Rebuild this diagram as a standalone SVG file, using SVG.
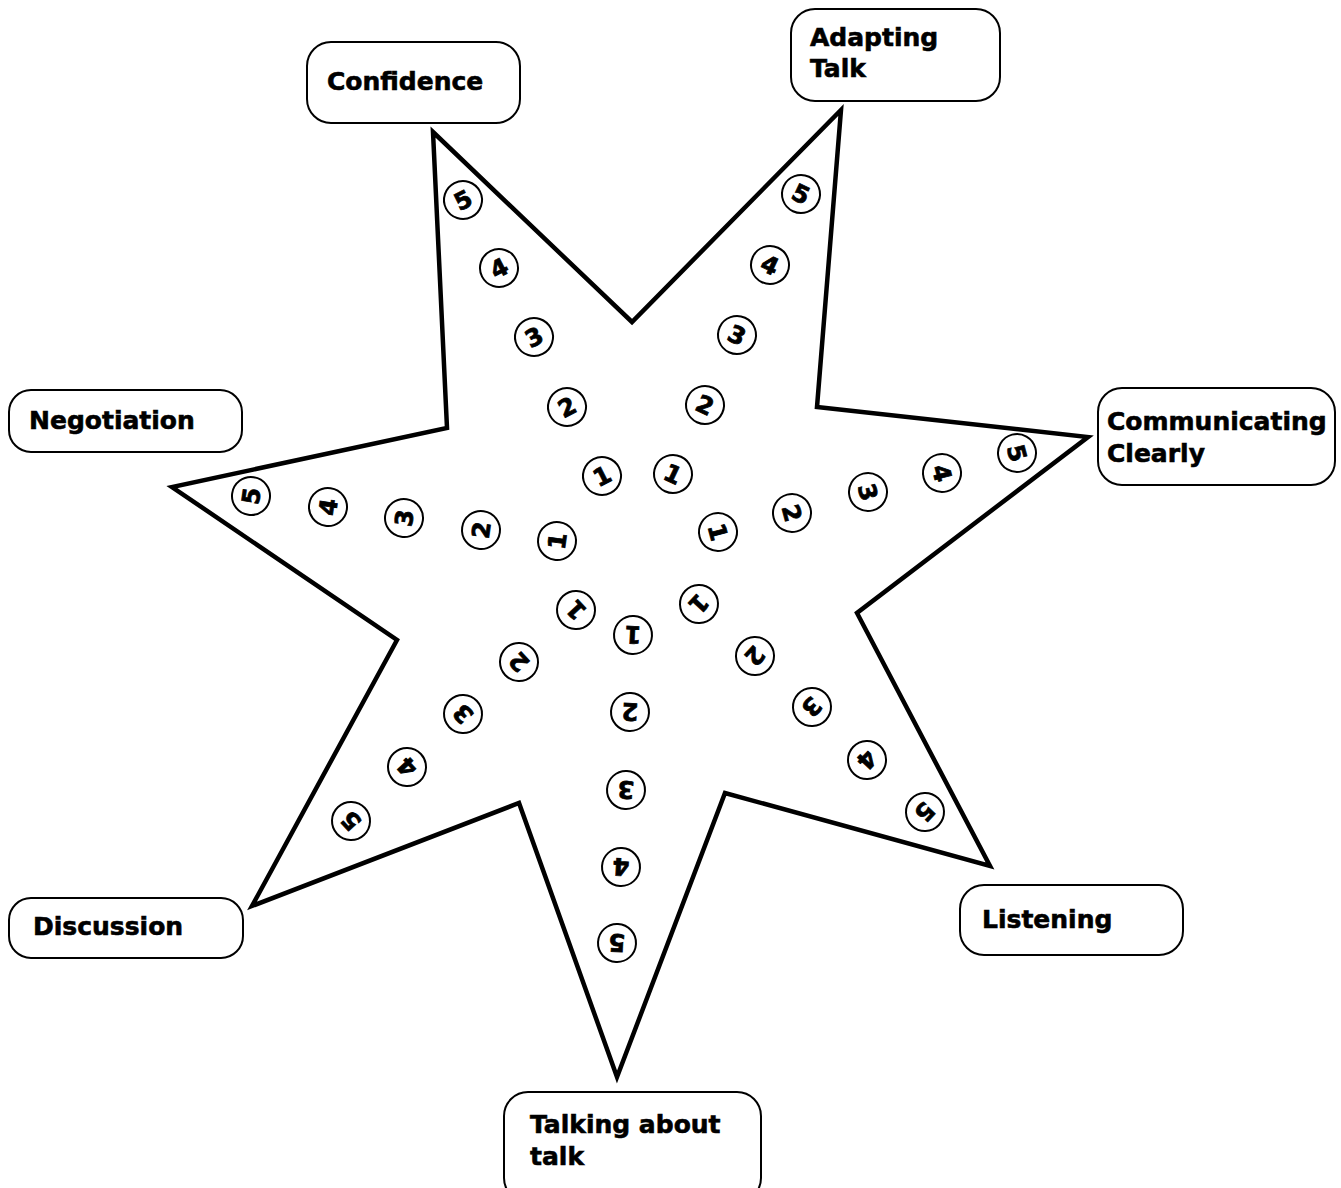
<svg xmlns="http://www.w3.org/2000/svg" width="1341" height="1188" viewBox="0 0 1341 1188">
<style>
.box{fill:#fff;stroke:#000;stroke-width:2}
.lbl{font-family:"DejaVu Sans",Verdana,sans-serif;font-weight:bold;font-size:25px;fill:#000;stroke:#000;stroke-width:0.6}
.star{fill:#fff;stroke:#000;stroke-width:4.5;stroke-linejoin:miter}
.c circle{fill:#fff;stroke:#000;stroke-width:2}
.c text{font-family:"DejaVu Sans",Verdana,sans-serif;font-weight:bold;font-size:24px;text-anchor:middle;fill:#000;stroke:#000;stroke-width:0.8}
</style>
<rect width="1341" height="1188" fill="#fff"/>
<g id="star-shape">
<path class="star" d="M433,132 L632,322 L841,110 L817,407 L1088,437 L857,613 L990,866 L725,793 L617,1077 L519,803 L252,906 L397,640 L172,487 L447,428 Z"/>
</g>
<g id="connectors"></g>
<g id="node-confidence"><rect class="box" x="307" y="42" width="213" height="81" rx="24"/><text class="lbl" x="327" y="90">Confidence</text></g>
<g id="node-adapting"><rect class="box" x="791" y="9" width="209" height="92" rx="24"/><text class="lbl" x="810" y="46">Adapting</text><text class="lbl" x="810" y="77">Talk</text></g>
<g id="node-negotiation"><rect class="box" x="9" y="390" width="233" height="62" rx="22"/><text class="lbl" x="29" y="429">Negotiation</text></g>
<g id="node-communicating"><rect class="box" x="1098" y="388" width="237" height="97" rx="24"/><text class="lbl" x="1107" y="430">Communicating</text><text class="lbl" x="1107" y="462">Clearly</text></g>
<g id="node-discussion"><rect class="box" x="9" y="898" width="234" height="60" rx="22"/><text class="lbl" x="33" y="935">Discussion</text></g>
<g id="node-listening"><rect class="box" x="960" y="885" width="223" height="70" rx="24"/><text class="lbl" x="982" y="928">Listening</text></g>
<g id="node-talking"><rect class="box" x="504" y="1092" width="257" height="110" rx="24"/><text class="lbl" x="530" y="1133">Talking about</text><text class="lbl" x="530" y="1165">talk</text></g>
<g id="scale-confidence" class="c">
<g transform="translate(602,476) rotate(-27)"><circle r="19"/><text y="8.7">1</text></g>
<g transform="translate(567,407) rotate(-27)"><circle r="19"/><text y="8.7">2</text></g>
<g transform="translate(534,337) rotate(-27)"><circle r="19"/><text y="8.7">3</text></g>
<g transform="translate(499,268) rotate(-27)"><circle r="19"/><text y="8.7">4</text></g>
<g transform="translate(463,200) rotate(-27)"><circle r="19"/><text y="8.7">5</text></g>
</g>
<g id="scale-adapting" class="c">
<g transform="translate(673,474) rotate(25)"><circle r="19"/><text y="8.7">1</text></g>
<g transform="translate(705,405) rotate(25)"><circle r="19"/><text y="8.7">2</text></g>
<g transform="translate(737,335) rotate(25)"><circle r="19"/><text y="8.7">3</text></g>
<g transform="translate(770,265) rotate(25)"><circle r="19"/><text y="8.7">4</text></g>
<g transform="translate(801,194) rotate(25)"><circle r="19"/><text y="8.7">5</text></g>
</g>
<g id="scale-communicating" class="c">
<g transform="translate(718,532) rotate(75)"><circle r="19"/><text y="8.7">1</text></g>
<g transform="translate(792,513) rotate(75)"><circle r="19"/><text y="8.7">2</text></g>
<g transform="translate(868,492) rotate(75)"><circle r="19"/><text y="8.7">3</text></g>
<g transform="translate(942,473) rotate(75)"><circle r="19"/><text y="8.7">4</text></g>
<g transform="translate(1017,453) rotate(75)"><circle r="19"/><text y="8.7">5</text></g>
</g>
<g id="scale-listening" class="c">
<g transform="translate(699,604) rotate(133)"><circle r="19"/><text y="8.7">1</text></g>
<g transform="translate(755,656) rotate(133)"><circle r="19"/><text y="8.7">2</text></g>
<g transform="translate(812,707) rotate(133)"><circle r="19"/><text y="8.7">3</text></g>
<g transform="translate(867,760) rotate(133)"><circle r="19"/><text y="8.7">4</text></g>
<g transform="translate(925,812) rotate(133)"><circle r="19"/><text y="8.7">5</text></g>
</g>
<g id="scale-talking" class="c">
<g transform="translate(633,635) rotate(183)"><circle r="19"/><text y="8.7">1</text></g>
<g transform="translate(630,712) rotate(183)"><circle r="19"/><text y="8.7">2</text></g>
<g transform="translate(626,790) rotate(183)"><circle r="19"/><text y="8.7">3</text></g>
<g transform="translate(621,867) rotate(183)"><circle r="19"/><text y="8.7">4</text></g>
<g transform="translate(617,943) rotate(183)"><circle r="19"/><text y="8.7">5</text></g>
</g>
<g id="scale-discussion" class="c">
<g transform="translate(576,610) rotate(227)"><circle r="19"/><text y="8.7">1</text></g>
<g transform="translate(519,662) rotate(227)"><circle r="19"/><text y="8.7">2</text></g>
<g transform="translate(463,714) rotate(227)"><circle r="19"/><text y="8.7">3</text></g>
<g transform="translate(407,767) rotate(227)"><circle r="19"/><text y="8.7">4</text></g>
<g transform="translate(351,821) rotate(227)"><circle r="19"/><text y="8.7">5</text></g>
</g>
<g id="scale-negotiation" class="c">
<g transform="translate(557,541) rotate(-82)"><circle r="19"/><text y="8.7">1</text></g>
<g transform="translate(481,530) rotate(-82)"><circle r="19"/><text y="8.7">2</text></g>
<g transform="translate(404,518) rotate(-82)"><circle r="19"/><text y="8.7">3</text></g>
<g transform="translate(328,507) rotate(-82)"><circle r="19"/><text y="8.7">4</text></g>
<g transform="translate(251,496) rotate(-82)"><circle r="19"/><text y="8.7">5</text></g>
</g>
</svg>
